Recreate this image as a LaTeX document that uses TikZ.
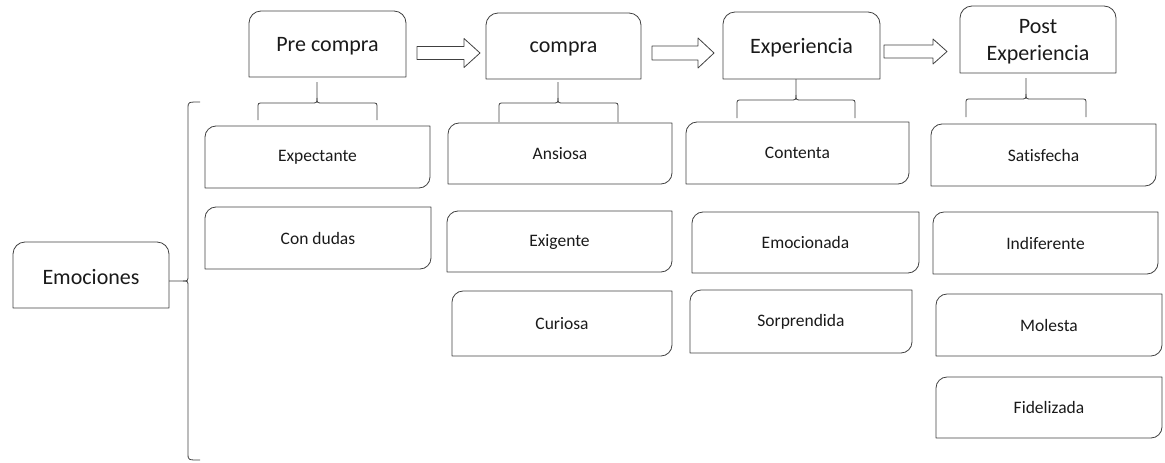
\documentclass[tikz,border=0pt]{standalone}
\usepackage{fontspec}
\setmainfont{Carlito}[Ligatures=NoCommon]
\usetikzlibrary{calc}
\definecolor{ln}{HTML}{404040}
\definecolor{tx}{HTML}{1A1A1A}
\tikzset{
  lnstyle/.style={draw=ln, line width=0.8pt, line join=round},
  hdtext/.style={inner sep=0pt, outer sep=0pt, text=tx, font=\fontsize{22}{27}\selectfont, align=center},
  chtext/.style={inner sep=0pt, outer sep=0pt, text=tx, font=\fontsize{17.5}{21}\selectfont, align=center},
}
% header box: top corners rounded
\newcommand\hdbox[6]{%
  \node[hdtext, minimum width={(#4-#2)*1pt}, minimum height={(#5-#3)*1pt}] (#1) at ({(#2+#4)/2},{(#3+#5)/2}) {};
  \node[hdtext] (#1t) at ($(#1.center)+(0,2.5)$) {#6};
  \draw[lnstyle] (#1.south west) -- ($(#1.north west)+(0,12)$) .. controls +(0,-6.6) and +(-6.6,0) .. ($(#1.north west)+(12,0)$)
     -- ($(#1.north east)+(-12,0)$) .. controls +(6.6,0) and +(0,-6.6) .. ($(#1.north east)+(0,12)$) -- (#1.south east) -- cycle;
}
% child box: top-left and bottom-right rounded
\newcommand\chbox[6]{%
  \node[chtext, minimum width={(#4-#2)*1pt}, minimum height={(#5-#3)*1pt}] (#1) at ({(#2+#4)/2},{(#3+#5)/2}) {#6};
  \draw[lnstyle] (#1.south west) -- ($(#1.north west)+(0,11)$) .. controls +(0,-6) and +(-6,0) .. ($(#1.north west)+(11,0)$)
     -- (#1.north east) -- ($(#1.south east)+(0,-11)$) .. controls +(0,6) and +(6,0) .. ($(#1.south east)+(-11,0)$) -- cycle;
}
% small brace: centre x, top y, mid y, left x, right x, bottom y
\newcommand\smallbrace[6]{%
  \draw[lnstyle] (#1,#2) -- (#1,#3-5) .. controls (#1,#3) .. (#1-6,#3) -- (#4+5,#3) .. controls (#4,#3) .. (#4,#3+5) -- (#4,#6);
  \draw[lnstyle] (#1,#3-5) .. controls (#1,#3) .. (#1+6,#3) -- (#5-5,#3) .. controls (#5,#3) .. (#5,#3+5) -- (#5,#6);
}
% block arrow: x start, head base x, tip x, centre y, half shaft, half head
\newcommand\blockarrow[6]{%
  \draw[lnstyle] (#1,#4-#5) -- (#2,#4-#5) -- (#2,#4-#6) -- (#3,#4) -- (#2,#4+#6) -- (#2,#4+#5) -- (#1,#4+#5) -- cycle;
}
\begin{document}
\begin{tikzpicture}[x=1pt,y=-1pt]
\useasboundingbox (0,0) rectangle (1165,463);
% headers
\hdbox{h1}{249}{11}{406}{77}{Pre compra}
\hdbox{h2}{486}{13}{641}{79}{compra}
\hdbox{h3}{723}{12}{880}{79}{Experiencia}
\hdbox{h4}{960}{6}{1116}{73}{Post\\Experiencia}
\hdbox{emo}{13}{242}{169}{308}{Emociones}
% arrows
\blockarrow{417}{464}{480}{53}{6.5}{14.5}
\blockarrow{652}{698}{714}{53}{7}{15}
\blockarrow{884}{933}{947}{51.5}{6.5}{12.5}
% children
\chbox{c11}{205}{126}{430}{188}{Expectante}
\chbox{c12}{205}{207}{431}{269}{Con dudas}
\chbox{c21}{448}{123}{672}{184}{Ansiosa}
\chbox{c22}{447}{211}{672}{272}{Exigente}
\chbox{c23}{452}{291}{672}{356}{Curiosa}
\chbox{c31}{686}{122}{909}{184}{Contenta}
\chbox{c32}{692}{212}{919}{273}{Emocionada}
\chbox{c33}{690}{290}{912}{353}{Sorprendida}
\chbox{c41}{931}{124}{1156}{186}{Satisfecha}
\chbox{c42}{933}{212}{1158}{274}{Indiferente}
\chbox{c43}{936}{294}{1162}{356}{Molesta}
\chbox{c44}{936}{377}{1162}{438}{Fidelizada}
% small braces
\smallbrace{317}{82}{103}{258}{377}{120}
\smallbrace{558}{82}{103}{499}{618}{122}
\smallbrace{796}{79}{100}{737}{855}{118}
\smallbrace{1026}{78}{99}{966}{1086}{117}
% big brace
\draw[lnstyle] (200,102) .. controls (188,102) .. (188,108) -- (188,275) .. controls (188,281) .. (183,281) -- (emo.east |- 0,281);
\draw[lnstyle] (183,281) .. controls (188,281) .. (188,287) -- (188,454) .. controls (188,460) .. (200,460);
\end{tikzpicture}
\end{document}
